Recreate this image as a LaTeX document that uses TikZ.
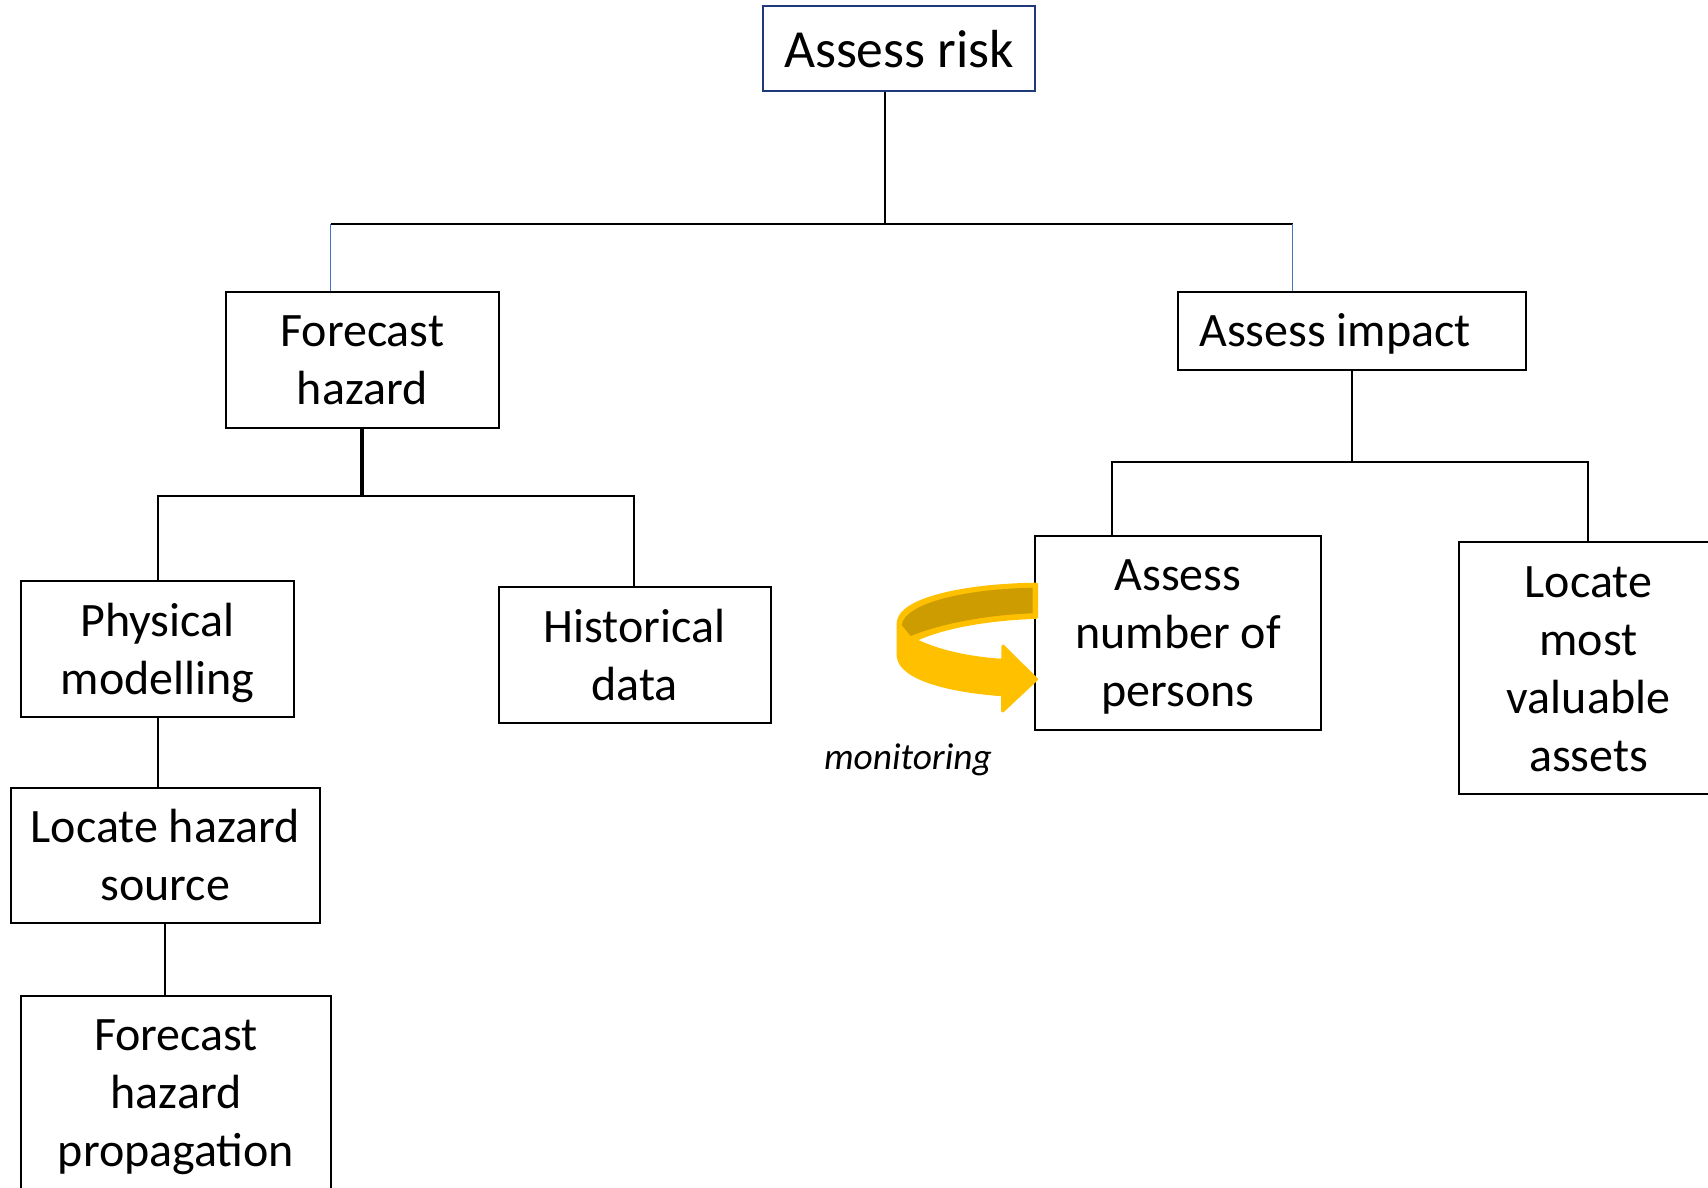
\documentclass[tikz,border=0pt]{standalone}
\usepackage{fontspec}
\setmainfont{Carlito}
\definecolor{arrowgold}{HTML}{FFC000}
\definecolor{arrowdark}{HTML}{CC9C00}
\definecolor{rootblue}{HTML}{1F3A7A}
\definecolor{linkblue}{HTML}{4472C4}
\newcommand{\pxbox}[7][]{%
  \pgfmathsetmacro{\bw}{(#5-#3)/2}%
  \pgfmathsetmacro{\bh}{(#6-#4)/2}%
  \node[treebox,#1,minimum width=\bw pt,minimum height=\bh pt] (#2) at ({(#3+#5)/2},{(#4+#6)/2}) {#7};}
\newcommand{\topstrut}[1]{\rule{0pt}{#1pt}}
\tikzset{
  x=0.5pt,y=-0.5pt,
  treebox/.style={draw=black,line width=1pt,fill=white,inner sep=0pt,align=center,
    font=\fontsize{24}{29}\selectfont},
  link/.style={draw=black,line width=1pt},
  thicklink/.style={draw=black,line width=1.6pt},
  bluelink/.style={draw=linkblue,line width=0.7pt},
  rootbox/.style={draw=rootblue,font=\fontsize{26.8}{32}\selectfont},
  arrowbody/.style={fill=arrowgold,draw=arrowgold,line width=1.5pt,line join=round},
  arrowinner/.style={fill=arrowdark},
  caption/.style={font=\fontsize{18.7}{22}\selectfont\itshape,inner sep=0pt}
}
\begin{document}
\begin{tikzpicture}
\useasboundingbox (0,0) rectangle (1708,1188);
\clip (0,0) rectangle (1708,1188);
% junctions
\coordinate (j0) at (885,224);
\coordinate (jl) at (330.5,224);
\coordinate (jr) at (1292.5,224);
\coordinate (h0) at (362,496);
\coordinate (hl) at (158,496);
\coordinate (hr) at (634,496);
\coordinate (i0) at (1352,462);
\coordinate (il) at (1112,462);
\coordinate (ir) at (1588,462);
\coordinate (p0) at (158,717);
\coordinate (s0) at (165,923);
% boxes
\pxbox[rootbox]{risk}{763}{6.5}{1035}{91}{Assess risk}
\pxbox{hazard}{226}{292}{498.5}{427.5}{\topstrut{16.4}Forecast\\hazard}
\pxbox{impact}{1178}{292}{1526}{369.5}{\topstrut{19.6}\hspace*{-17pt}Assess impact}
\pxbox{physical}{21}{581}{294}{717}{\topstrut{20.6}Physical\\modelling}
\pxbox{historical}{498.5}{587}{770.5}{723}{Historical\\data}
\pxbox{persons}{1035}{536}{1321}{730}{\topstrut{19.3}Assess\\number of\\persons}
\pxbox{assets}{1459}{542}{1718}{793.5}{\topstrut{16.6}Locate\\most\\valuable\\assets}
\pxbox{source}{10.5}{787.5}{320}{923}{Locate hazard\\source}
\pxbox{propagation}{21}{995.5}{331}{1195}{\topstrut{17.6}Forecast\\hazard\\propagation}
% connectors
\draw[link] (risk.south -| j0) -- (j0);
\draw[link] (jl) -- (jr);
\draw[bluelink] (jl) -- (jl |- hazard.north);
\draw[bluelink] (jr) -- (jr |- impact.north);
\draw[thicklink] (hazard.south -| h0) -- (h0);
\draw[link] (physical.north -| hl) |- (hr) -- (hr |- historical.north);
\draw[link] (impact.south -| i0) -- (i0);
\draw[link] (persons.north -| il) |- (ir) -- (ir |- assets.north);
\draw[link] (physical.south -| p0) -- (p0 |- source.north);
\draw[link] (source.south -| s0) -- (s0 |- propagation.north);
% monitoring arrow
\draw[arrowbody] (1036.5,584.2) .. controls (965,585) and (899,599) .. (898.2,623)
  -- (898.2,656.7) .. controls (901,679) and (950,691) .. (1002.7,694.8)
  -- (1002.7,711) -- (1036.5,679.3) -- (1003,646) -- (1002.7,660.3)
  .. controls (965,658) and (935,650) .. (915,640)
  .. controls (945,626) and (990,619) .. (1036.5,617.3) -- cycle;
\fill[arrowinner] (1032.7,587.7) .. controls (965,589) and (905,603) .. (901.7,625)
  -- (910.7,636) .. controls (940,624) and (985,615) .. (1032.7,613.3) -- cycle;
\node[caption] (mon) at (908,759.5) {monitoring};
\end{tikzpicture}
\end{document}
